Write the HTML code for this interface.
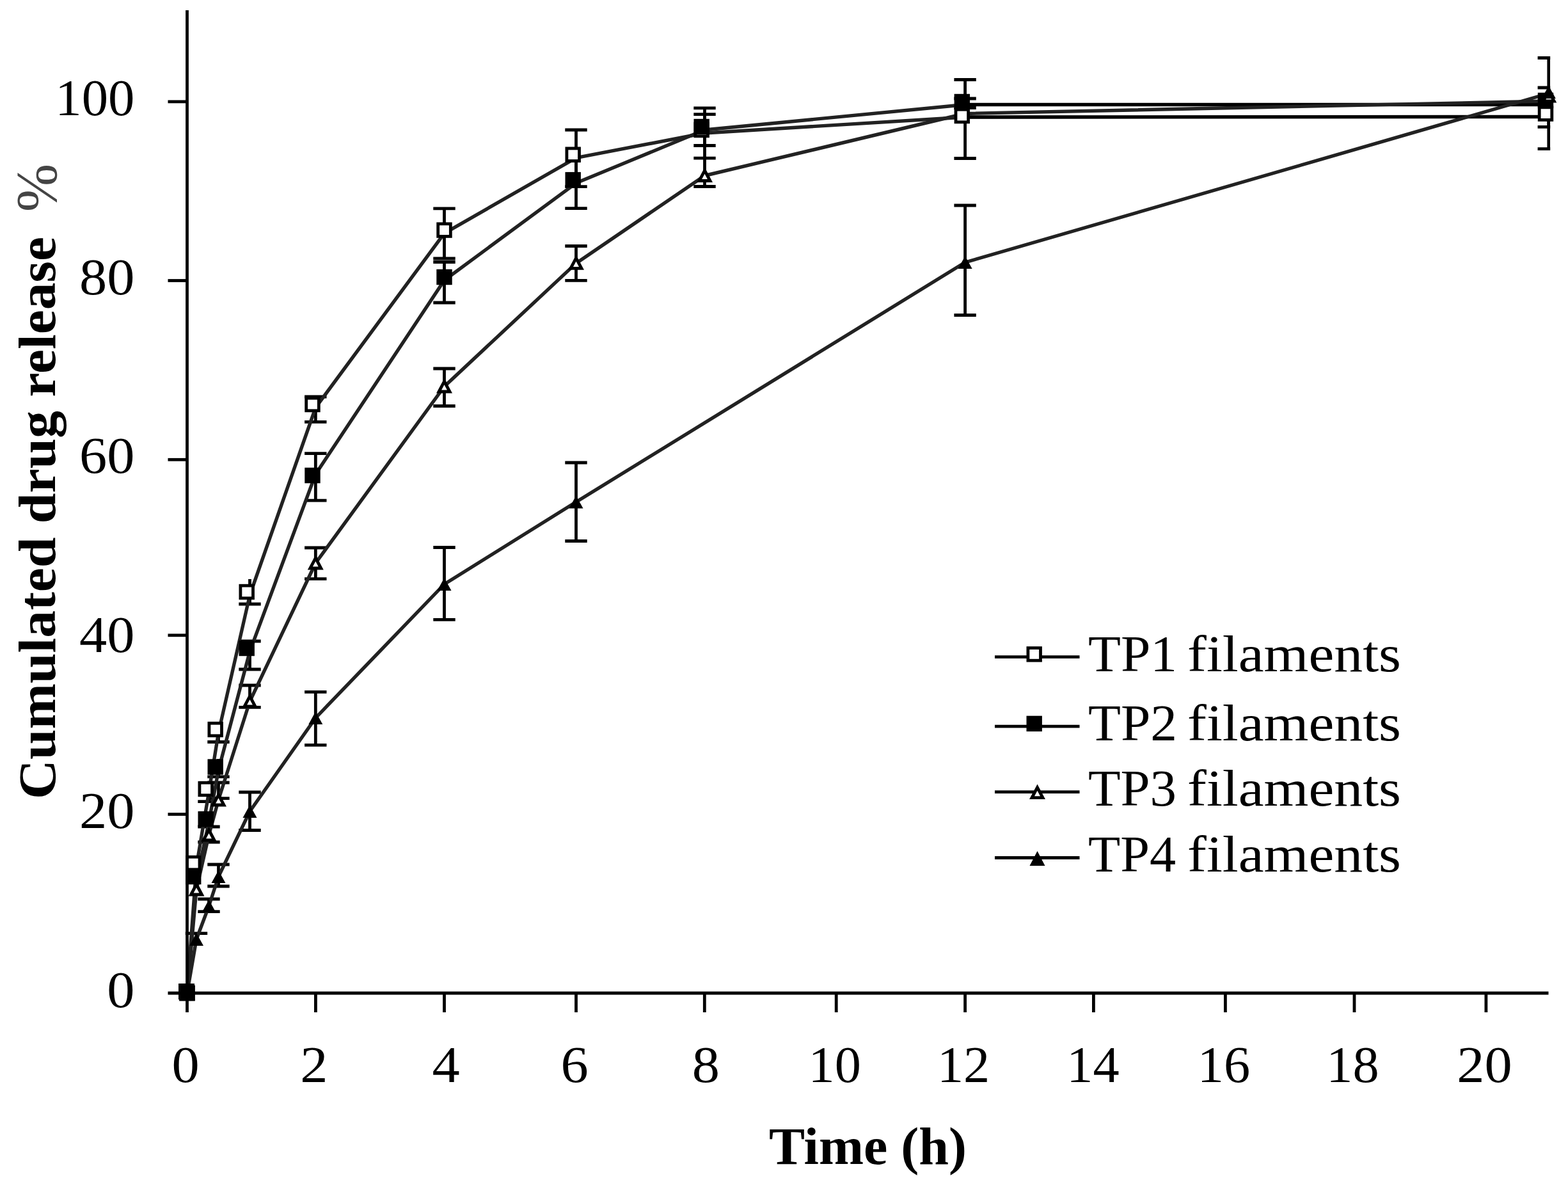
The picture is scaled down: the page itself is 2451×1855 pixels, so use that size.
<!DOCTYPE html>
<html><head><meta charset="utf-8"><style>
html,body{margin:0;padding:0;background:#fff;}
svg{display:block;}
.ax{stroke:#000;stroke-width:4.8;fill:none;}
.eb line{stroke:#000;stroke-width:4.8;}
.dl{stroke:#222;stroke-width:5.4;fill:none;stroke-linejoin:round;}
.hl{stroke:#000;stroke-width:4.8;}
.tl{font-family:"Liberation Serif",serif;font-size:80px;fill:#000;}
.lg{font-family:"Liberation Serif",serif;font-size:80px;fill:#000;}
.tt{font-family:"Liberation Serif",serif;font-size:82px;font-weight:bold;fill:#000;}
.pc{font-family:"Liberation Serif",serif;font-size:90px;fill:#444;}
</style></head><body>
<svg width="2451" height="1855" viewBox="0 0 2451 1855">
<rect width="2451" height="1855" fill="#fff"/>
<defs><clipPath id="pa"><rect x="0" y="0" width="2423.2" height="1855"/></clipPath></defs>
<g clip-path="url(#pa)" class="eb">
<line x1="307.0" y1="1458.7" x2="307.0" y2="1478"/>
<line x1="289.8" y1="1458.7" x2="324.2" y2="1458.7"/>
<line x1="301.0" y1="1337" x2="301.0" y2="1380"/>
<line x1="326.5" y1="1405" x2="326.5" y2="1424.6"/>
<line x1="309.3" y1="1405" x2="343.7" y2="1405"/>
<line x1="309.3" y1="1424.6" x2="343.7" y2="1424.6"/>
<line x1="326.5" y1="1292" x2="326.5" y2="1316"/>
<line x1="309.3" y1="1292" x2="343.7" y2="1292"/>
<line x1="309.3" y1="1316" x2="343.7" y2="1316"/>
<line x1="326.5" y1="1240" x2="326.5" y2="1252.6"/>
<line x1="309.3" y1="1252.6" x2="343.7" y2="1252.6"/>
<line x1="341.5" y1="1351" x2="341.5" y2="1385"/>
<line x1="324.3" y1="1351" x2="358.7" y2="1351"/>
<line x1="324.3" y1="1385" x2="358.7" y2="1385"/>
<line x1="341.5" y1="1223" x2="341.5" y2="1247.7"/>
<line x1="324.3" y1="1223" x2="358.7" y2="1223"/>
<line x1="324.3" y1="1247.7" x2="358.7" y2="1247.7"/>
<line x1="341.5" y1="1130" x2="341.5" y2="1159.5"/>
<line x1="324.3" y1="1159.5" x2="358.7" y2="1159.5"/>
<line x1="341.5" y1="1186" x2="341.5" y2="1213.8"/>
<line x1="324.3" y1="1213.8" x2="358.7" y2="1213.8"/>
<line x1="390.5" y1="1238" x2="390.5" y2="1297.5"/>
<line x1="373.3" y1="1238" x2="407.7" y2="1238"/>
<line x1="373.3" y1="1297.5" x2="407.7" y2="1297.5"/>
<line x1="390.5" y1="1071" x2="390.5" y2="1105.3"/>
<line x1="373.3" y1="1071" x2="407.7" y2="1071"/>
<line x1="373.3" y1="1105.3" x2="407.7" y2="1105.3"/>
<line x1="390.5" y1="1002" x2="390.5" y2="1046"/>
<line x1="373.3" y1="1002" x2="407.7" y2="1002"/>
<line x1="373.3" y1="1046" x2="407.7" y2="1046"/>
<line x1="390.5" y1="905" x2="390.5" y2="944"/>
<line x1="373.3" y1="944" x2="407.7" y2="944"/>
<line x1="493.3" y1="1081.3" x2="493.3" y2="1164.4"/>
<line x1="476.1" y1="1081.3" x2="510.5" y2="1081.3"/>
<line x1="476.1" y1="1164.4" x2="510.5" y2="1164.4"/>
<line x1="493.3" y1="856" x2="493.3" y2="904.7"/>
<line x1="476.1" y1="856" x2="510.5" y2="856"/>
<line x1="476.1" y1="904.7" x2="510.5" y2="904.7"/>
<line x1="493.3" y1="708.6" x2="493.3" y2="782.2"/>
<line x1="476.1" y1="708.6" x2="510.5" y2="708.6"/>
<line x1="476.1" y1="782.2" x2="510.5" y2="782.2"/>
<line x1="493.3" y1="620" x2="493.3" y2="659.3"/>
<line x1="476.1" y1="620" x2="510.5" y2="620"/>
<line x1="476.1" y1="659.3" x2="510.5" y2="659.3"/>
<line x1="694.5" y1="855.5" x2="694.5" y2="968.4"/>
<line x1="677.3" y1="855.5" x2="711.7" y2="855.5"/>
<line x1="677.3" y1="968.4" x2="711.7" y2="968.4"/>
<line x1="694.5" y1="576" x2="694.5" y2="634.5"/>
<line x1="677.3" y1="576" x2="711.7" y2="576"/>
<line x1="677.3" y1="634.5" x2="711.7" y2="634.5"/>
<line x1="694.5" y1="409.5" x2="694.5" y2="473"/>
<line x1="677.3" y1="409.5" x2="711.7" y2="409.5"/>
<line x1="677.3" y1="473" x2="711.7" y2="473"/>
<line x1="694.5" y1="325.8" x2="694.5" y2="404"/>
<line x1="677.3" y1="325.8" x2="711.7" y2="325.8"/>
<line x1="677.3" y1="404" x2="711.7" y2="404"/>
<line x1="900.5" y1="723" x2="900.5" y2="845.5"/>
<line x1="883.3" y1="723" x2="917.7" y2="723"/>
<line x1="883.3" y1="845.5" x2="917.7" y2="845.5"/>
<line x1="900.5" y1="384.5" x2="900.5" y2="438.3"/>
<line x1="883.3" y1="384.5" x2="917.7" y2="384.5"/>
<line x1="883.3" y1="438.3" x2="917.7" y2="438.3"/>
<line x1="900.5" y1="240" x2="900.5" y2="325.7"/>
<line x1="883.3" y1="325.7" x2="917.7" y2="325.7"/>
<line x1="900.5" y1="203" x2="900.5" y2="291.7"/>
<line x1="883.3" y1="203" x2="917.7" y2="203"/>
<line x1="883.3" y1="291.7" x2="917.7" y2="291.7"/>
<line x1="1101.5" y1="247" x2="1101.5" y2="291.5"/>
<line x1="1084.3" y1="291.5" x2="1118.7" y2="291.5"/>
<line x1="1101.5" y1="168.8" x2="1101.5" y2="227.5"/>
<line x1="1084.3" y1="168.8" x2="1118.7" y2="168.8"/>
<line x1="1084.3" y1="227.5" x2="1118.7" y2="227.5"/>
<line x1="1101.5" y1="178.7" x2="1101.5" y2="247.2"/>
<line x1="1084.3" y1="178.7" x2="1118.7" y2="178.7"/>
<line x1="1084.3" y1="247.2" x2="1118.7" y2="247.2"/>
<line x1="1508.6" y1="321" x2="1508.6" y2="492.5"/>
<line x1="1491.3999999999999" y1="321" x2="1525.8" y2="321"/>
<line x1="1491.3999999999999" y1="492.5" x2="1525.8" y2="492.5"/>
<line x1="1508.6" y1="124.5" x2="1508.6" y2="247.5"/>
<line x1="1491.3999999999999" y1="124.5" x2="1525.8" y2="124.5"/>
<line x1="1491.3999999999999" y1="247.5" x2="1525.8" y2="247.5"/>
<line x1="1508.6" y1="154" x2="1508.6" y2="168.5"/>
<line x1="1491.3999999999999" y1="154" x2="1525.8" y2="154"/>
<line x1="1491.3999999999999" y1="168.5" x2="1525.8" y2="168.5"/>
<line x1="2420.8" y1="90.5" x2="2420.8" y2="232.7"/>
<line x1="2403.6000000000004" y1="90.5" x2="2438.0" y2="90.5"/>
<line x1="2403.6000000000004" y1="232.7" x2="2438.0" y2="232.7"/>
<line x1="2420.8" y1="157" x2="2420.8" y2="198.3"/>
<line x1="2403.6000000000004" y1="157" x2="2438.0" y2="157"/>
<line x1="2403.6000000000004" y1="198.3" x2="2438.0" y2="198.3"/>
<line x1="2420.8" y1="137" x2="2420.8" y2="140"/>
<line x1="2403.6000000000004" y1="137" x2="2438.0" y2="137"/>
</g>
<polyline points="292.5,1552.0 307.0,1354.0 326.5,1238.0 341.5,1145.0 390.5,930.0 493.3,637.0 694.5,364.6 900.5,246.7 1101.5,208.0 1508.6,183.0 2420.8,182.5" class="dl"/>
<line x1="1508.6" y1="183.0" x2="2420.8" y2="182.5" class="hl"/>
<polyline points="292.5,1552.0 307.0,1375.0 326.5,1285.0 341.5,1203.5 390.5,1018.0 493.3,741.0 694.5,438.0 900.5,286.1 1101.5,203.0 1508.6,163.5 2420.8,163.5" class="dl"/>
<line x1="1508.6" y1="163.5" x2="2420.8" y2="163.5" class="hl"/>
<polyline points="292.5,1552.0 307.0,1390.0 326.5,1305.0 341.5,1250.0 390.5,1096.0 493.3,880.0 694.5,604.0 900.5,411.4 1101.5,274.5 1508.6,177.5 2420.8,158.0" class="dl"/>
<polyline points="292.5,1552.0 307.0,1468.0 326.5,1416.0 341.5,1370.0 390.5,1268.0 493.3,1122.0 694.5,913.0 900.5,784.5 1508.6,410.0 2420.8,146.0" class="dl"/>
<rect x="282.7" y="1542.2" width="19.6" height="19.6" fill="#fff" stroke="#000" stroke-width="4.8"/>
<rect x="292.4" y="1339.2" width="19.6" height="19.6" fill="#fff" stroke="#000" stroke-width="4.8"/>
<rect x="311.9" y="1223.2" width="19.6" height="19.6" fill="#fff" stroke="#000" stroke-width="4.8"/>
<rect x="326.9" y="1130.2" width="19.6" height="19.6" fill="#fff" stroke="#000" stroke-width="4.8"/>
<rect x="375.9" y="915.2" width="19.6" height="19.6" fill="#fff" stroke="#000" stroke-width="4.8"/>
<rect x="478.7" y="622.2" width="19.6" height="19.6" fill="#fff" stroke="#000" stroke-width="4.8"/>
<rect x="684.7" y="349.8" width="19.6" height="19.6" fill="#fff" stroke="#000" stroke-width="4.8"/>
<rect x="885.9" y="231.9" width="19.6" height="19.6" fill="#fff" stroke="#000" stroke-width="4.8"/>
<rect x="1086.9" y="193.2" width="19.6" height="19.6" fill="#fff" stroke="#000" stroke-width="4.8"/>
<rect x="1494.0" y="171.2" width="19.6" height="19.6" fill="#fff" stroke="#000" stroke-width="4.8"/>
<rect x="2406.2" y="167.8" width="19.6" height="19.6" fill="#fff" stroke="#000" stroke-width="4.8"/>
<rect x="280.3" y="1539.8" width="24.4" height="24.4" fill="#000"/>
<rect x="290.0" y="1357.8" width="24.4" height="24.4" fill="#000"/>
<rect x="309.5" y="1267.8" width="24.4" height="24.4" fill="#000"/>
<rect x="324.5" y="1186.3" width="24.4" height="24.4" fill="#000"/>
<rect x="373.5" y="1000.8" width="24.4" height="24.4" fill="#000"/>
<rect x="476.3" y="730.8" width="24.4" height="24.4" fill="#000"/>
<rect x="682.3" y="420.8" width="24.4" height="24.4" fill="#000"/>
<rect x="883.5" y="268.9" width="24.4" height="24.4" fill="#000"/>
<rect x="1084.5" y="185.8" width="24.4" height="24.4" fill="#000"/>
<rect x="1491.6" y="146.8" width="24.4" height="24.4" fill="#000"/>
<rect x="2403.8" y="144.8" width="24.4" height="24.4" fill="#000"/>
<polygon points="292.5,1544.0 301.0,1560.0 284.0,1560.0" fill="#fff" stroke="#000" stroke-width="4.8" stroke-linejoin="miter"/>
<polygon points="307.0,1382.0 315.5,1398.0 298.5,1398.0" fill="#fff" stroke="#000" stroke-width="4.8" stroke-linejoin="miter"/>
<polygon points="326.5,1297.0 335.0,1313.0 318.0,1313.0" fill="#fff" stroke="#000" stroke-width="4.8" stroke-linejoin="miter"/>
<polygon points="341.5,1242.0 350.0,1258.0 333.0,1258.0" fill="#fff" stroke="#000" stroke-width="4.8" stroke-linejoin="miter"/>
<polygon points="390.5,1088.0 399.0,1104.0 382.0,1104.0" fill="#fff" stroke="#000" stroke-width="4.8" stroke-linejoin="miter"/>
<polygon points="493.3,872.0 501.8,888.0 484.8,888.0" fill="#fff" stroke="#000" stroke-width="4.8" stroke-linejoin="miter"/>
<polygon points="694.5,596.0 703.0,612.0 686.0,612.0" fill="#fff" stroke="#000" stroke-width="4.8" stroke-linejoin="miter"/>
<polygon points="900.5,403.4 909.0,419.4 892.0,419.4" fill="#fff" stroke="#000" stroke-width="4.8" stroke-linejoin="miter"/>
<polygon points="1101.5,266.5 1110.0,282.5 1093.0,282.5" fill="#fff" stroke="#000" stroke-width="4.8" stroke-linejoin="miter"/>
<polygon points="2420.8,142.0 2429.3,158.0 2412.3,158.0" fill="#fff" stroke="#000" stroke-width="4.8" stroke-linejoin="miter"/>
<polygon points="292.5,1542.0 303.5,1562.0 281.5,1562.0" fill="#000"/>
<polygon points="307.0,1458.0 318.0,1478.0 296.0,1478.0" fill="#000"/>
<polygon points="326.5,1406.0 337.5,1426.0 315.5,1426.0" fill="#000"/>
<polygon points="341.5,1360.0 352.5,1380.0 330.5,1380.0" fill="#000"/>
<polygon points="390.5,1258.0 401.5,1278.0 379.5,1278.0" fill="#000"/>
<polygon points="493.3,1112.0 504.3,1132.0 482.3,1132.0" fill="#000"/>
<polygon points="694.5,903.0 705.5,923.0 683.5,923.0" fill="#000"/>
<polygon points="900.5,774.5 911.5,794.5 889.5,794.5" fill="#000"/>
<polygon points="1508.6,400.0 1519.6,420.0 1497.6,420.0" fill="#000"/>
<polygon points="2420.8,134.0 2431.8,154.0 2409.8,154.0" fill="#000"/>
<line x1="292.5" y1="16" x2="292.5" y2="1552" class="ax"/>
<line x1="262.5" y1="1552" x2="2420.5" y2="1552" class="ax"/>
<line x1="262.5" y1="1272.5" x2="292.5" y2="1272.5" class="ax"/>
<line x1="262.5" y1="992.8" x2="292.5" y2="992.8" class="ax"/>
<line x1="262.5" y1="718.3" x2="292.5" y2="718.3" class="ax"/>
<line x1="262.5" y1="438.5" x2="292.5" y2="438.5" class="ax"/>
<line x1="262.5" y1="158.9" x2="292.5" y2="158.9" class="ax"/>
<line x1="292.5" y1="1552" x2="292.5" y2="1582" class="ax"/>
<line x1="493.4" y1="1552" x2="493.4" y2="1582" class="ax"/>
<line x1="694.5" y1="1552" x2="694.5" y2="1582" class="ax"/>
<line x1="900.5" y1="1552" x2="900.5" y2="1582" class="ax"/>
<line x1="1101.3" y1="1552" x2="1101.3" y2="1582" class="ax"/>
<line x1="1307.2" y1="1552" x2="1307.2" y2="1582" class="ax"/>
<line x1="1508.6" y1="1552" x2="1508.6" y2="1582" class="ax"/>
<line x1="1709.4" y1="1552" x2="1709.4" y2="1582" class="ax"/>
<line x1="1915.4" y1="1552" x2="1915.4" y2="1582" class="ax"/>
<line x1="2117.0" y1="1552" x2="2117.0" y2="1582" class="ax"/>
<line x1="2322.9" y1="1552" x2="2322.9" y2="1582" class="ax"/>
<rect x="279" y="1537" width="25" height="25" fill="#000"/>
<text transform="translate(210.5,1573.7) scale(1.08,1)" class="tl" text-anchor="end">0</text>
<text transform="translate(210.5,1294.0) scale(1.08,1)" class="tl" text-anchor="end">20</text>
<text transform="translate(210.5,1019.4) scale(1.08,1)" class="tl" text-anchor="end">40</text>
<text transform="translate(210.5,739.4) scale(1.08,1)" class="tl" text-anchor="end">60</text>
<text transform="translate(210.5,460.3) scale(1.08,1)" class="tl" text-anchor="end">80</text>
<text transform="translate(210.5,180.2) scale(1.035,1)" class="tl" text-anchor="end">100</text>
<text transform="translate(290.0,1690.5) scale(1.08,1)" class="tl" text-anchor="middle">0</text>
<text transform="translate(490.9,1690.5) scale(1.08,1)" class="tl" text-anchor="middle">2</text>
<text transform="translate(697.0,1690.5) scale(1.08,1)" class="tl" text-anchor="middle">4</text>
<text transform="translate(898.0,1690.5) scale(1.08,1)" class="tl" text-anchor="middle">6</text>
<text transform="translate(1103.3,1690.5) scale(1.08,1)" class="tl" text-anchor="middle">8</text>
<text transform="translate(1304.7,1690.5) scale(1.03,1)" class="tl" text-anchor="middle">10</text>
<text transform="translate(1506.1,1690.5) scale(1.03,1)" class="tl" text-anchor="middle">12</text>
<text transform="translate(1708.4,1690.5) scale(1.03,1)" class="tl" text-anchor="middle">14</text>
<text transform="translate(1912.9,1690.5) scale(1.03,1)" class="tl" text-anchor="middle">16</text>
<text transform="translate(2114.5,1690.5) scale(1.03,1)" class="tl" text-anchor="middle">18</text>
<text transform="translate(2320.4,1690.5) scale(1.08,1)" class="tl" text-anchor="middle">20</text>
<text transform="translate(86,1249) rotate(-90)" class="tt" textLength="879" lengthAdjust="spacingAndGlyphs">Cumulated drug release</text>
<text transform="translate(88,331) rotate(-90)" class="pc">%</text>
<text x="1202" y="1819.3" class="tt" textLength="309" lengthAdjust="spacingAndGlyphs">Time (h)</text>
<line x1="1555" y1="1026.6" x2="1687.5" y2="1026.6" class="hl"/>
<rect x="1606.9" y="1012.6" width="19.6" height="19.6" fill="#fff" stroke="#000" stroke-width="4.8"/>
<text x="1701" y="1048.9" class="lg" textLength="139" lengthAdjust="spacingAndGlyphs">TP1</text>
<text x="1856" y="1048.9" class="lg" textLength="334" lengthAdjust="spacingAndGlyphs">filaments</text>
<line x1="1555" y1="1135.1" x2="1687.5" y2="1135.1" class="hl"/>
<rect x="1604.5" y="1118.7" width="24.4" height="24.4" fill="#000"/>
<text x="1701" y="1156.5" class="lg" textLength="139" lengthAdjust="spacingAndGlyphs">TP2</text>
<text x="1856" y="1156.5" class="lg" textLength="334" lengthAdjust="spacingAndGlyphs">filaments</text>
<line x1="1555" y1="1237.6" x2="1687.5" y2="1237.6" class="hl"/>
<polygon points="1621.5,1230.6 1630.0,1246.6 1613.0,1246.6" fill="#fff" stroke="#000" stroke-width="4.8" stroke-linejoin="miter"/>
<text x="1701" y="1259.4" class="lg" textLength="138" lengthAdjust="spacingAndGlyphs">TP3</text>
<text x="1856" y="1259.4" class="lg" textLength="334" lengthAdjust="spacingAndGlyphs">filaments</text>
<line x1="1555" y1="1340.5" x2="1687.5" y2="1340.5" class="hl"/>
<polygon points="1621.5,1330.0 1633.5,1353.0 1609.5,1353.0" fill="#000"/>
<text x="1701" y="1362.4" class="lg" textLength="137" lengthAdjust="spacingAndGlyphs">TP4</text>
<text x="1856" y="1362.4" class="lg" textLength="334" lengthAdjust="spacingAndGlyphs">filaments</text>
</svg>
</body></html>
